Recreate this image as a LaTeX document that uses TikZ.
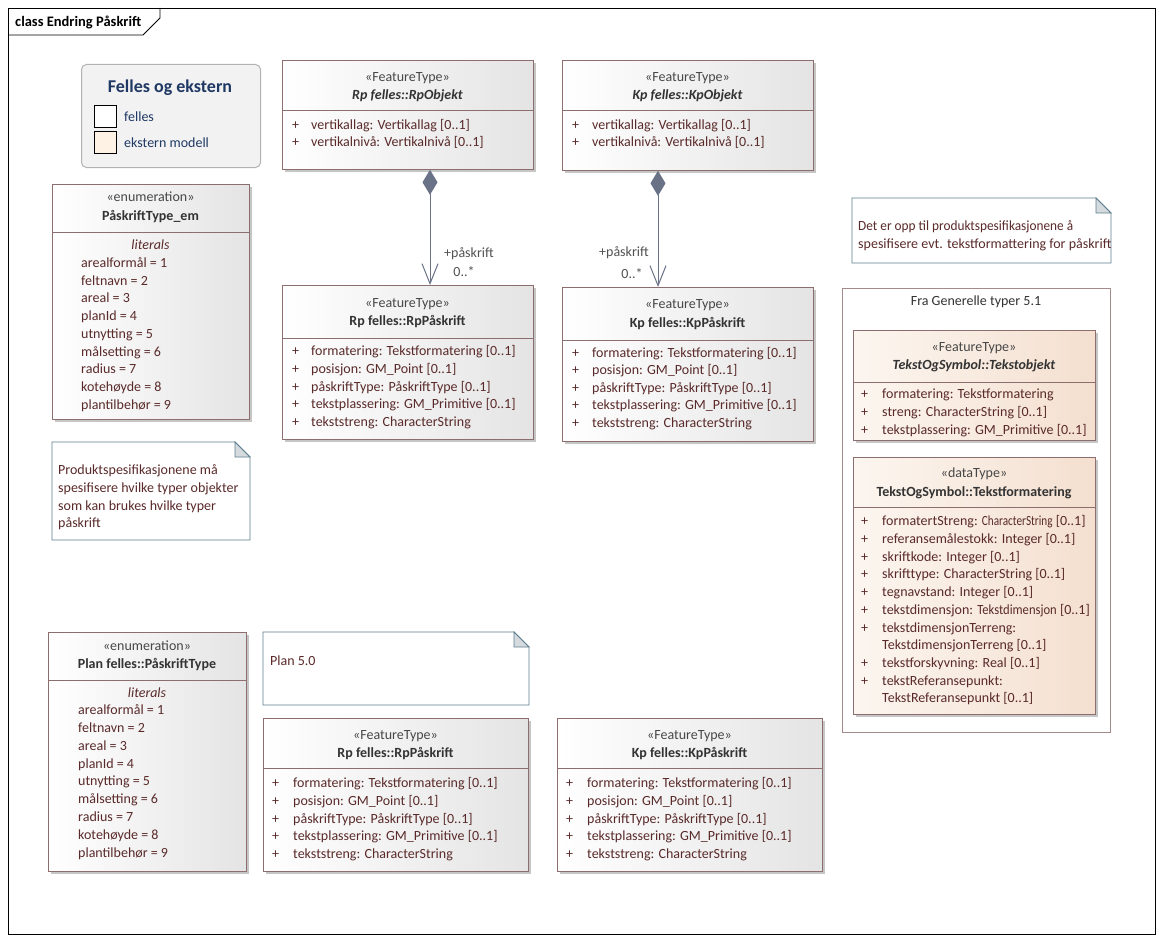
\documentclass[tikz,border=0pt]{standalone}
\usepackage{fontspec}
\setmainfont{Carlito}
\usetikzlibrary{shadows,arrows.meta,calc}
\definecolor{txt}{HTML}{5A2A2A}
\definecolor{dark}{HTML}{333333}
\definecolor{clsborder}{HTML}{8C6E6E}
\definecolor{connc}{HTML}{6A7288}
\definecolor{notec}{HTML}{5F7F8F}
\definecolor{foldc}{HTML}{D5DADF}
\definecolor{navy}{HTML}{1F3864}
\definecolor{extA}{HTML}{FCF6F0}
\definecolor{extB}{HTML}{F4DFCF}
\definecolor{legext}{HTML}{FDF2E3}
\definecolor{grayB}{HTML}{E4E4E4}
\newcommand\myattrs[4]{%
  \foreach \yy/\myt in {#4} {%
    \node[attr] (#1p\yy) at (#2,\yy) {+};
    \node[attr] (#1t\yy) at (#3,\yy) {\myt};
  }}
\newcommand\mylits[3]{%
  \foreach \yy/\myt in {#3} {%
    \node[attr] (#1l\yy) at (#2,\yy) {\myt};
  }}
\newcommand\basefont{\fontsize{14}{16}\selectfont}
\newcommand\squeeze[2]{\scalebox{#1}[1]{#2}}
\begin{document}
\begin{tikzpicture}[x=1pt,y=-1pt,
  every node/.style={font=\basefont},
  cls/.style={draw=clsborder, line width=0.8pt, left color=white, right color=grayB,
    drop shadow={shadow xshift=3pt,shadow yshift=-3pt,fill=black!28,opacity=0.8},
    anchor=north west, inner sep=0},
  ext/.style={cls, left color=extA, right color=extB},
  divider/.style={draw=clsborder, line width=0.8pt},
  attr/.style={anchor=west, inner sep=0, text height=12pt, text depth=1pt, text=txt},
  ctext/.style={inner sep=0, text height=12pt, text depth=1pt},
  stereo/.style={ctext, text=dark!90},
  cname/.style={ctext, text=dark, font=\basefont\bfseries},
  aname/.style={ctext, text=dark, font=\basefont\bfseries\itshape},
  lit/.style={ctext, text=txt, font=\basefont\itshape},
  notebox/.style={draw=notec, line width=0.8pt, fill=white},
  fold/.style={draw=notec, line width=0.8pt, fill=foldc},
  conn/.style={draw=connc, line width=1pt},
  rolelbl/.style={ctext, text=dark!85}
]
\useasboundingbox (0,0) rectangle (1163,942);
\fill[white] (0,0) rectangle (1163,942);
% frame
\draw[line width=0.8pt] (8,8) rectangle (1155,934);
\draw[line width=0.8pt] (8,35) -- (143,35) -- (160,18) -- (160,8);
\node[anchor=west, inner sep=0, text height=12pt, text depth=1pt, font=\fontsize{14.5}{16}\selectfont\bfseries] (title) at (15,21) {class Endring Påskrift};

% legend
\node[draw=black!30, fill=black!5, rounded corners=5pt, line width=1pt, anchor=north west, minimum width=179pt, minimum height=103pt, inner sep=0] (legend) at (81,64) {};
\node[inner sep=0, text height=14pt, text depth=1pt, text=navy, font=\fontsize{18}{20}\selectfont\bfseries] (legtitle) at (170,86) {Felles og ekstern};
\node[draw=black, fill=white, line width=0.8pt, minimum width=22pt, minimum height=22pt, inner sep=0, anchor=north west] (legA) at (94,105) {};
\node[draw=black, fill=legext, line width=0.8pt, minimum width=22pt, minimum height=22pt, inner sep=0, anchor=north west] (legB) at (94,131) {};
\node[attr, text=navy] (legAt) at (124,116) {felles};
\node[attr, text=navy] (legBt) at (124,142) {ekstern modell};

% RpObjekt
\node[cls, minimum width=251pt, minimum height=109pt] (rpobj) at (282,60) {};
\draw[divider] (282,110) -- (533,110);
\node[stereo] (rpobjS) at (407.5,76) {«FeatureType»};
\node[aname] (rpobjN) at (407.5,94) {Rp felles::RpObjekt};
\myattrs{rpobj}{292}{311}{124/vertikallag: Vertikallag [0..1], 141/vertikalnivå: Vertikalnivå [0..1]}

% KpObjekt
\node[cls, minimum width=251pt, minimum height=110pt] (kpobj) at (562,60) {};
\draw[divider] (562,110) -- (813,110);
\node[stereo] (kpobjS) at (687.5,76) {«FeatureType»};
\node[aname] (kpobjN) at (687.5,94) {Kp felles::KpObjekt};
\myattrs{kpobj}{572}{592}{124/vertikallag: Vertikallag [0..1], 141/vertikalnivå: Vertikalnivå [0..1]}

% RpPaaskrift
\node[cls, minimum width=251pt, minimum height=154pt] (rppas) at (282,285) {};
\draw[divider] (282,338) -- (533,338);
\node[stereo] (rppasS) at (407.5,302) {«FeatureType»};
\node[cname] (rppasN) at (407.5,320) {Rp felles::RpPåskrift};
\myattrs{rppas}{292}{311}{350/formatering: Tekstformatering [0..1], 368/posisjon: GM\_Point [0..1], 386/påskriftType: PåskriftType [0..1], 403/tekstplassering: GM\_Primitive [0..1], 421/tekststreng: CharacterString}

% KpPaaskrift
\node[cls, minimum width=251pt, minimum height=154pt] (kppas) at (562,287) {};
\draw[divider] (562,340) -- (813,340);
\node[stereo] (kppasS) at (687.5,303) {«FeatureType»};
\node[cname] (kppasN) at (687.5,322) {Kp felles::KpPåskrift};
\myattrs{kppas}{572}{592}{352/formatering: Tekstformatering [0..1], 369/posisjon: GM\_Point [0..1], 387/påskriftType: PåskriftType [0..1], 404/tekstplassering: GM\_Primitive [0..1], 422/tekststreng: CharacterString}

% associations
\draw[conn, {Diamond[length=25pt,width=15pt,fill=connc]}-{Straight Barb[length=20pt,width=16pt]}]
  ($(rpobj.south west)+(148,0)$) -- ($(rppas.north west)+(148,0)$);
\node[rolelbl] (rprole) at (469,252) {+påskrift};
\node[rolelbl] (rpmult) at (464,271) {0..*};
\draw[conn, {Diamond[length=25pt,width=15pt,fill=connc]}-{Straight Barb[length=20pt,width=16pt]}]
  ($(kpobj.south west)+(96,0)$) -- ($(kppas.north west)+(96,0)$);
\node[rolelbl] (kprole) at (624,251) {+påskrift};
\node[rolelbl] (kpmult) at (632,273) {0..*};

% PaaskriftType_em
\node[cls, minimum width=197pt, minimum height=235pt] (enum1) at (52,184) {};
\draw[divider] (52,232) -- (249,232);
\node[stereo] (enum1S) at (150.5,196) {«enumeration»};
\node[cname] (enum1N) at (150.5,215) {PåskriftType\_em};
\node[lit] (enum1L) at (150.5,244) {literals};
\mylits{enum1}{81}{262/arealformål = 1, 280/feltnavn = 2, 297/areal = 3, 315/planId = 4, 333/utnytting = 5, 351/målsetting = 6, 368/radius = 7, 386/kotehøyde = 8, 404/plantilbehør = 9}

% note 1
\draw[notebox] (52,442) -- (235,442) -- (250,457) -- (250,540) -- (52,540) -- cycle;
\draw[fold] (235,442) -- (235,457) -- (250,457) -- cycle;
\mylits{note1}{58}{469/Produktspesifikasjonene må, 487/spesifisere hvilke typer objekter, 505/som kan brukes hvilke typer, 522/påskrift}

% note right
\draw[notebox] (852,198) -- (1096,198) -- (1111,213) -- (1111,263) -- (852,263) -- cycle;
\draw[fold] (1096,198) -- (1096,213) -- (1111,213) -- cycle;
\node[attr] (note2a) at (858,225) {\squeeze{0.95}{Det er opp til produktspesifikasjonene å}};
\node[attr] (note2b) at (858,243) {spesifisere evt. tekstformattering for påskrift};

% package
\draw[draw=clsborder!80, line width=0.8pt] (842,288) rectangle (1110,732);
\node[ctext, text=dark] (pkgT) at (976,300) {Fra Generelle typer 5.1};

% Tekstobjekt
\node[ext, minimum width=242pt, minimum height=110pt] (tobj) at (853,330) {};
\draw[divider] (853,382) -- (1095,382);
\node[stereo] (tobjS) at (974,346) {«FeatureType»};
\node[aname] (tobjN) at (974,364) {TekstOgSymbol::Tekstobjekt};
\myattrs{tobj}{861}{882}{393/formatering: Tekstformatering, 411/streng: CharacterString [0..1], 429/tekstplassering: GM\_Primitive [0..1]}

% Tekstformatering
\node[ext, minimum width=242pt, minimum height=257pt] (tfmt) at (853,457) {};
\draw[divider] (853,507) -- (1095,507);
\node[stereo] (tfmtS) at (974,472) {«dataType»};
\node[cname] (tfmtN) at (974,491) {TekstOgSymbol::Tekstformatering};
\myattrs{tfmt}{861}{882}{520/formatertStreng: \squeeze{0.8}{CharacterString} [0..1], 538/referansemålestokk: Integer [0..1], 556/skriftkode: Integer [0..1], 573/skrifttype: CharacterString [0..1], 591/tegnavstand: Integer [0..1], 609/tekstdimensjon: \squeeze{0.9}{Tekstdimensjon} [0..1], 627/tekstdimensjonTerreng:, 662/tekstforskyvning: Real [0..1], 680/tekstReferansepunkt:}
\mylits{tfmtc}{882}{644/TekstdimensjonTerreng [0..1], 697/TekstReferansepunkt [0..1]}

% Plan felles::PaaskriftType
\node[cls, minimum width=198pt, minimum height=239pt] (enum2) at (48,632) {};
\draw[divider] (48,680) -- (246,680);
\node[stereo] (enum2S) at (147,645) {«enumeration»};
\node[cname] (enum2N) at (147,663) {Plan felles::PåskriftType};
\node[lit] (enum2L) at (147,692) {literals};
\mylits{enum2}{78}{709/arealformål = 1, 727/feltnavn = 2, 745/areal = 3, 763/planId = 4, 780/utnytting = 5, 798/målsetting = 6, 816/radius = 7, 834/kotehøyde = 8, 852/plantilbehør = 9}

% note Plan 5.0
\draw[notebox] (263,632) -- (514,632) -- (529,647) -- (529,705) -- (263,705) -- cycle;
\draw[fold] (514,632) -- (514,647) -- (529,647) -- cycle;
\node[attr] (note3t) at (270,660) {Plan 5.0};

% bottom RpPaaskrift
\node[cls, minimum width=265pt, minimum height=153pt] (rppas2) at (263,718) {};
\draw[divider] (263,768) -- (528,768);
\node[stereo] (rppas2S) at (395.5,734) {«FeatureType»};
\node[cname] (rppas2N) at (395.5,752) {Rp felles::RpPåskrift};
\myattrs{rppasb}{272}{293}{782/formatering: Tekstformatering [0..1], 800/posisjon: GM\_Point [0..1], 818/påskriftType: PåskriftType [0..1], 835/tekstplassering: GM\_Primitive [0..1], 853/tekststreng: CharacterString}

% bottom KpPaaskrift
\node[cls, minimum width=265pt, minimum height=153pt] (kppas2) at (557,718) {};
\draw[divider] (557,768) -- (822,768);
\node[stereo] (kppas2S) at (689.5,734) {«FeatureType»};
\node[cname] (kppas2N) at (689.5,752) {Kp felles::KpPåskrift};
\myattrs{kppasb}{566}{587}{782/formatering: Tekstformatering [0..1], 800/posisjon: GM\_Point [0..1], 818/påskriftType: PåskriftType [0..1], 835/tekstplassering: GM\_Primitive [0..1], 853/tekststreng: CharacterString}
\end{tikzpicture}
\end{document}
